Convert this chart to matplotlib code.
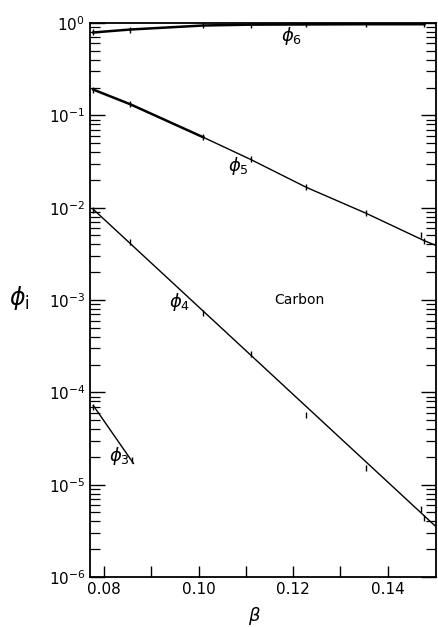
import matplotlib
matplotlib.use("Agg")
import matplotlib.pyplot as plt
from matplotlib.ticker import LogLocator, FixedLocator, NullFormatter

# beta values where the fractions were measured
beta = [0.0777, 0.0855, 0.1010, 0.1110, 0.1228, 0.1355, 0.1478]

phi6 = [0.79, 0.85, 0.94, 0.96, 0.965, 0.97, 0.97]
phi5 = [0.19, 0.132, 0.0578, 0.0333, 0.0166, 0.00867, 0.00438]
phi4 = [9.4e-3, 4.28e-3, 7.3e-4, 2.6e-4, 5.66e-5, 1.52e-5, 4.4e-6]
beta3 = [0.0777, 0.0858]
phi3 = [7.0e-5, 1.84e-5]

# second measurement near the end of the range
beta_extra = [0.1470]
phi5_extra = [5.0e-3]
phi4_extra = [5.4e-6]

# straight fit lines
fit4_x = [0.0777, 0.1500]
fit4_y = [9.6e-3, 3.6e-6]
fit3_x = [0.0777, 0.0862]
fit3_y = [7.2e-5, 1.7e-5]
fit5_x = [0.1478, 0.1500]
fit5_y = [4.38e-3, 3.95e-3]

xticks = [0.08, 0.10, 0.12, 0.14]
xticklabels = ["0.08", "0.10", "0.12", "0.14"]
yticks = [1e-6, 1e-5, 1e-4, 1e-3, 1e-2, 1e-1, 1e0]
yticklabels = [r"$10^{-6}$", r"$10^{-5}$", r"$10^{-4}$", r"$10^{-3}$",
               r"$10^{-2}$", r"$10^{-1}$", r"$10^{0}$"]

fig = plt.figure(figsize=(4.38, 6.27), dpi=100)
ax = fig.add_axes([0.2055, 0.0797, 0.7895, 0.8836])
ax.set_yscale("log")
ax.set_xlim(0.0770, 0.1502)
ax.set_ylim(1e-6, 1.0)

# curves through the points
ax.plot(beta, phi6, color="black", lw=1.8)
ax.plot(beta[:3], phi5[:3], color="black", lw=1.8)
ax.plot(beta[2:], phi5[2:], color="black", lw=1.0)
ax.plot(fit5_x, fit5_y, color="black", lw=1.0)
ax.plot(fit4_x, fit4_y, color="black", lw=1.0)
ax.plot(fit3_x, fit3_y, color="black", lw=1.0)

# measured points (small vertical error marks)
for xs, ys in [(beta, phi6), (beta, phi5), (beta, phi4), (beta3, phi3),
               (beta_extra, phi5_extra), (beta_extra, phi4_extra)]:
    ax.plot(xs, ys, linestyle="none", marker="|", color="black",
            markersize=5, markeredgewidth=1.0)

# labels
ax.text(0.1175, 0.64, r"$\phi_6$", fontsize=13)
ax.text(0.1062, 0.025, r"$\phi_5$", fontsize=13)
ax.text(0.0937, 8.5e-4, r"$\phi_4$", fontsize=13)
ax.text(0.0810, 1.8e-5, r"$\phi_3$", fontsize=13)
ax.text(0.1160, 1.0e-3, "Carbon", fontsize=10, va="center")

# ticks
ax.xaxis.set_major_locator(FixedLocator(xticks))
ax.set_xticklabels(xticklabels)
ax.xaxis.set_minor_locator(FixedLocator([0.09, 0.11, 0.13]))
ax.xaxis.set_minor_formatter(NullFormatter())
ax.yaxis.set_major_locator(FixedLocator(yticks))
ax.set_yticklabels(yticklabels)
ax.yaxis.set_minor_locator(LogLocator(base=10, subs=range(2, 10), numticks=20))
ax.yaxis.set_minor_formatter(NullFormatter())
ax.tick_params(axis="x", which="both", direction="in", length=8, width=1,
               top=False, labelsize=11)
ax.tick_params(axis="y", which="major", direction="in", length=11, width=1,
               left=True, right=True, labelsize=11)
ax.tick_params(axis="y", which="minor", direction="in", length=7, width=0.9,
               left=True, right=True)
for s in ax.spines.values():
    s.set_linewidth(1.3)

fig.text(0.045, 0.525, r"$\phi_{\mathrm{i}}$", fontsize=17, ha="center", va="center")
fig.text(0.582, 0.018, r"$\beta$", fontsize=13, ha="center", va="center")

fig.savefig("out.png", dpi=100)
